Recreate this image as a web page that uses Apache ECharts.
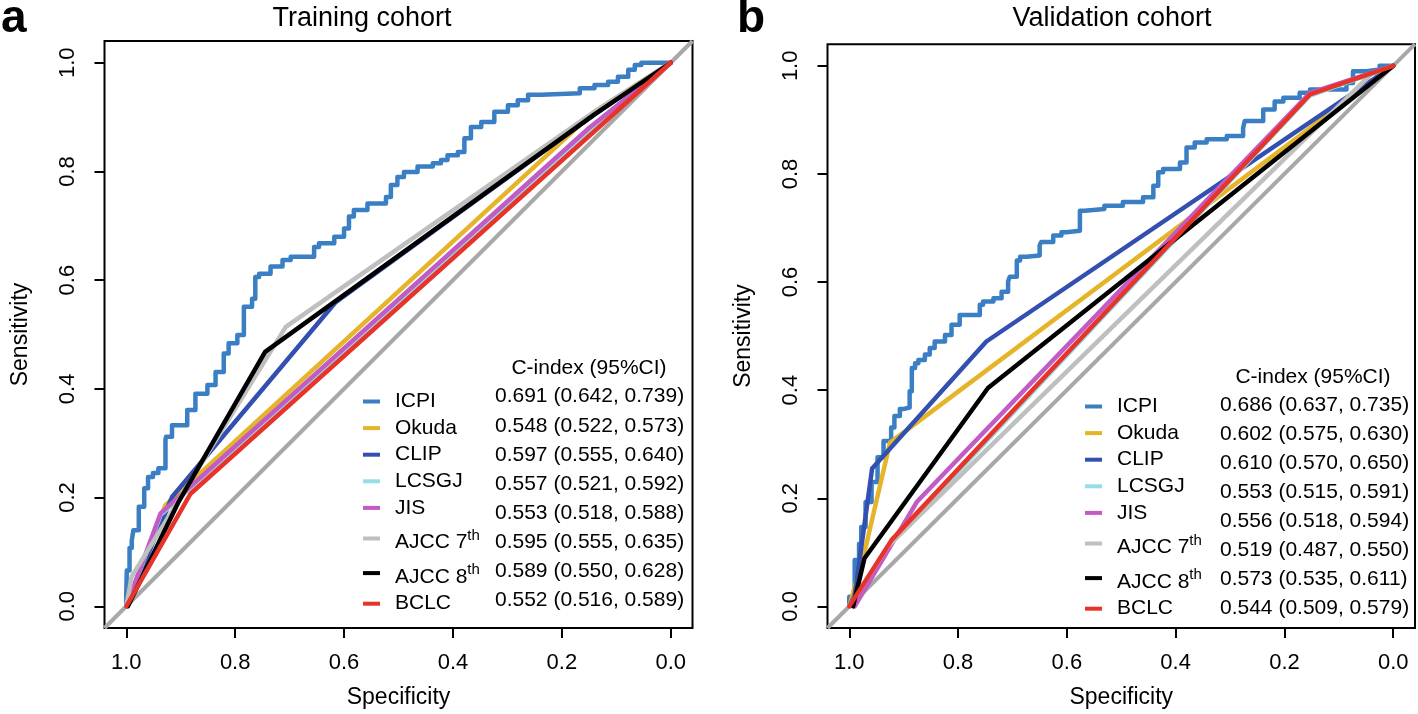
<!DOCTYPE html>
<html><head><meta charset="utf-8">
<script src="https://cdn.jsdelivr.net/npm/echarts@6/dist/echarts.min.js"></script>
<style>html,body{margin:0;padding:0;background:#fff}#c{width:1418px;height:714px}</style>
</head><body><div id="c"></div>
<script>
// ---------- data ----------
const models = ['ICPI','Okuda','CLIP','LCSGJ','JIS','AJCC 7th','AJCC 8th','BCLC'];
const colors = ['#3a7ec3','#e5b428','#3350b0','#92dfe8','#c25bc4','#bfbfbf','#000000','#e8332a'];
const tickVals = [0, 0.2, 0.4, 0.6, 0.8, 1.0];

// Training cohort ROC curves: [specificity, sensitivity]
const trainICPI = [[1.000,0.000],[0.999,0.024],[0.994,0.066],[0.990,0.107],[0.987,0.120],[0.977,0.140],[0.967,0.183],[0.960,0.217],[0.951,0.238],[0.941,0.245],[0.928,0.254],[0.927,0.306],[0.916,0.312],[0.888,0.333],[0.873,0.361],[0.851,0.391],[0.836,0.407],[0.821,0.431],[0.812,0.465],[0.796,0.484],[0.784,0.499],[0.769,0.551],[0.763,0.566],[0.756,0.606],[0.735,0.612],[0.713,0.625],[0.698,0.637],[0.655,0.643],[0.646,0.661],[0.618,0.668],[0.600,0.680],[0.591,0.695],[0.582,0.717],[0.557,0.729],[0.523,0.741],[0.514,0.753],[0.502,0.775],[0.490,0.790],[0.465,0.799],[0.437,0.809],[0.422,0.815],[0.410,0.821],[0.391,0.830],[0.379,0.836],[0.367,0.861],[0.348,0.882],[0.324,0.891],[0.299,0.910],[0.281,0.922],[0.262,0.931],[0.238,0.941],[0.167,0.944],[0.140,0.953],[0.115,0.959],[0.097,0.965],[0.078,0.974],[0.066,0.987],[0.054,0.996],[0.023,1.000],[0.000,1.000]];
const trainOkuda = [[1,0],[0.928,0.186],[0.14,0.91],[0,1]];
const trainCLIP  = [[1,0],[0.916,0.201],[0.616,0.559],[0.14,0.905],[0,1]];
const trainLCSGJ = [[1,0],[0.937,0.168],[0.15,0.875],[0,1]];
const trainJIS   = [[1,0],[0.937,0.171],[0.15,0.88],[0,1]];
const trainAJCC7 = [[1,0],[0.99,0.055],[0.707,0.514],[0.14,0.91],[0,1]];
const trainAJCC8 = [[0.997,0],[0.905,0.19],[0.745,0.468],[0.14,0.905],[0,1]];
const trainBCLC  = [[1,0],[0.882,0.207],[0,1]];

// Validation cohort ROC curves: [specificity, sensitivity]
const validICPI = [[1.000,0.000],[0.998,0.018],[0.990,0.018],[0.982,0.086],[0.978,0.116],[0.970,0.147],[0.959,0.193],[0.948,0.230],[0.937,0.276],[0.923,0.306],[0.917,0.331],[0.907,0.352],[0.901,0.365],[0.889,0.368],[0.885,0.398],[0.879,0.441],[0.873,0.450],[0.861,0.456],[0.852,0.466],[0.843,0.478],[0.840,0.490],[0.824,0.490],[0.812,0.502],[0.797,0.521],[0.791,0.539],[0.760,0.539],[0.754,0.558],[0.735,0.564],[0.720,0.570],[0.708,0.582],[0.705,0.601],[0.692,0.610],[0.686,0.640],[0.674,0.647],[0.650,0.649],[0.647,0.668],[0.625,0.674],[0.610,0.686],[0.601,0.692],[0.576,0.695],[0.567,0.732],[0.531,0.735],[0.497,0.741],[0.460,0.748],[0.441,0.757],[0.432,0.778],[0.423,0.803],[0.392,0.809],[0.380,0.821],[0.365,0.849],[0.343,0.858],[0.306,0.864],[0.276,0.870],[0.273,0.885],[0.239,0.898],[0.218,0.919],[0.202,0.934],[0.172,0.941],[0.153,0.950],[0.086,0.956],[0.074,0.968],[0.049,0.990],[0.025,0.993],[0.000,1.000]];
const validOkuda = [[1,0],[0.972,0.10],[0.925,0.303],[0,1]];
const validCLIP  = [[1,0],[0.99,0.02],[0.958,0.255],[0.748,0.49],[0,1]];
const validLCSGJ = [[1,0],[0.92,0.12],[0.153,0.945],[0,1]];
const validJIS   = [[0.99,0],[0.876,0.193],[0.153,0.95],[0,1]];
const validAJCC7 = [[1,0],[0.93,0.11],[0.04,0.985],[0,1]];
const validAJCC8 = [[0.993,0],[0.972,0.089],[0.745,0.404],[0,1]];
const validBCLC  = [[1,0],[0.922,0.123],[0.153,0.947],[0,1]];

// C-index (95% CI)
const trainC  = [0.691,0.548,0.597,0.557,0.553,0.595,0.589,0.552];
const trainLo = [0.642,0.522,0.555,0.521,0.518,0.555,0.550,0.516];
const trainHi = [0.739,0.573,0.640,0.592,0.588,0.635,0.628,0.589];
const validC  = [0.686,0.602,0.610,0.553,0.556,0.519,0.573,0.544];
const validLo = [0.637,0.575,0.570,0.515,0.518,0.487,0.535,0.509];
const validHi = [0.735,0.630,0.650,0.591,0.594,0.550,0.611,0.579];

const trainCurves = [trainICPI,trainOkuda,trainCLIP,trainLCSGJ,trainJIS,trainAJCC7,trainAJCC8,trainBCLC];
const validCurves = [validICPI,validOkuda,validCLIP,validLCSGJ,validJIS,validAJCC7,validAJCC8,validBCLC];

// ---------- chart ----------
const FF = '"Liberation Sans", Arial, Helvetica, sans-serif';
const diagX = [-0.04, 1.04];

function xAx(gi){
  return {type:'value', gridIndex:gi, min:-0.04, max:1.04, inverse:true,
    axisLine:{show:false, onZero:false}, splitLine:{show:false},
    axisTick:{show:true, inside:false, length:10, customValues:tickVals, lineStyle:{color:'#000', width:2}},
    axisLabel:{customValues:tickVals, formatter:v=>v.toFixed(1), fontSize:22, color:'#000', fontFamily:FF, margin:24},
    name:'Specificity', nameLocation:'middle', nameGap:58,
    nameTextStyle:{fontSize:23, color:'#000', fontFamily:FF}};
}
function yAx(gi){
  return {type:'value', gridIndex:gi, min:-0.04, max:1.04,
    axisLine:{show:false, onZero:false}, splitLine:{show:false},
    axisTick:{show:true, inside:false, length:10, customValues:tickVals, lineStyle:{color:'#000', width:2}},
    axisLabel:{customValues:tickVals, formatter:v=>v.toFixed(1), fontSize:22, color:'#000', fontFamily:FF, rotate:90, margin:26},
    name:'Sensitivity', nameLocation:'middle', nameGap:72,
    nameTextStyle:{fontSize:23, color:'#000', fontFamily:FF}};
}

const series = [];
[trainCurves, validCurves].forEach((curves, gi) => {
  series.push({type:'line', xAxisIndex:gi, yAxisIndex:gi, silent:true, symbol:'none',
    data: diagX.map(x => [x, 1 - x]),
    lineStyle:{color:'#a8a8a8', width:4}, z:1});
  curves.forEach((c, i) => {
    series.push({type:'line', name:models[i], xAxisIndex:gi, yAxisIndex:gi, symbol:'none',
      step: i === 0 ? 'start' : false,
      data:c, color:colors[i],
      lineStyle:{color:colors[i], width:4.5, join:'round', cap:'round'},
      itemStyle:{color:colors[i]}, z:2});
  });
});

function legendFmt(name){
  const m = name.match(/^(AJCC \d)(th)$/);
  return m ? '{n2|' + m[1] + '}{s|' + m[2] + '}' : '{n|' + name + '}';
}
const legendRich = {
  n:{fontSize:21, fontFamily:FF, color:'#000', lineHeight:21},
  n2:{fontSize:21, fontFamily:FF, color:'#000', lineHeight:21, padding:[8,0,0,0]},
  s:{fontSize:15, fontFamily:FF, color:'#000', lineHeight:15, verticalAlign:'top'}
};
function mkLegend(left, top){
  return {orient:'vertical', left:left, top:top, data:models, icon:'rect',
    itemWidth:17, itemHeight:4, itemGap:5.6, padding:0,
    formatter:legendFmt,
    textStyle:{fontSize:21, fontFamily:FF, color:'#000', padding:[0,0,0,10], rich:legendRich}};
}

const graphic = [
  {type:'text', style:{text:'a', x:1, y:-4, font:'bold 46px ' + FF, fill:'#000'}},
  {type:'text', style:{text:'b', x:737, y:-4, font:'bold 46px ' + FF, fill:'#000'}},
  {type:'text', style:{text:'Training cohort', x:362, y:19, font:'27px ' + FF, fill:'#000', textAlign:'center', textVerticalAlign:'middle'}},
  {type:'text', style:{text:'Validation cohort', x:1112, y:19, font:'27px ' + FF, fill:'#000', textAlign:'center', textVerticalAlign:'middle'}},
  {type:'text', style:{text:'C-index (95%CI)', x:589, y:368, font:'21px ' + FF, fill:'#000', textAlign:'center', textVerticalAlign:'middle'}},
  {type:'text', style:{text:'C-index (95%CI)', x:1313, y:377, font:'21px ' + FF, fill:'#000', textAlign:'center', textVerticalAlign:'middle'}}
];
const fmt = v => v.toFixed(3);
models.forEach((m, i) => {
  graphic.push({type:'text', style:{text: fmt(trainC[i]) + ' (' + fmt(trainLo[i]) + ', ' + fmt(trainHi[i]) + ')',
    x:495, y:396.7 + i * 29.05, font:'21px ' + FF, fill:'#000', textAlign:'left', textVerticalAlign:'middle'}});
  graphic.push({type:'text', style:{text: fmt(validC[i]) + ' (' + fmt(validLo[i]) + ', ' + fmt(validHi[i]) + ')',
    x:1220, y:405 + i * 29.05, font:'21px ' + FF, fill:'#000', textAlign:'left', textVerticalAlign:'middle'}});
});

const option = {
  animation:false,
  backgroundColor:'#fff',
  grid:[
    {left:104.5, top:41, width:588, height:587, show:true, borderColor:'#000', borderWidth:2, backgroundColor:'rgba(0,0,0,0)'},
    {left:827.5, top:44.2, width:587.5, height:587.6, show:true, borderColor:'#000', borderWidth:2, backgroundColor:'rgba(0,0,0,0)'}
  ],
  xAxis:[xAx(0), xAx(1)],
  yAxis:[yAx(0), yAx(1)],
  legend:[mkLegend(363, 391), mkLegend(1085, 396)],
  graphic:graphic,
  series:series
};
const chart = echarts.init(document.getElementById('c'), null, {renderer:'canvas'});
chart.setOption(option);
</script>
</body></html>
